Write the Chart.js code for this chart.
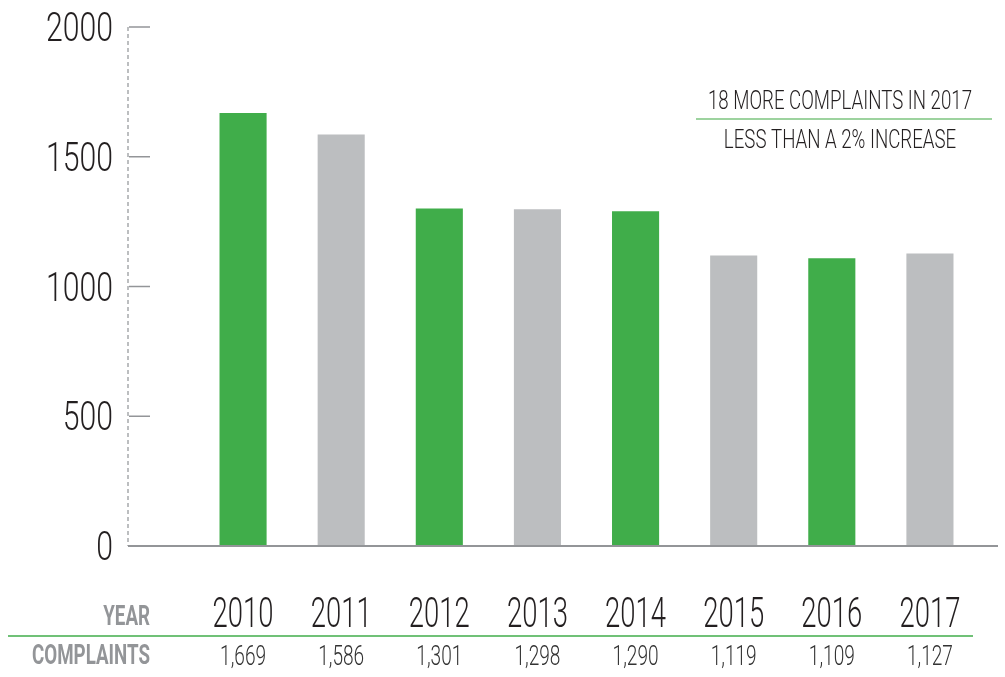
<!DOCTYPE html>
<html>
<head>
<meta charset="utf-8">
<script src="https://cdn.jsdelivr.net/npm/chart.js@4.4.1/dist/chart.umd.min.js"></script>
<style>
  html, body { margin: 0; padding: 0; background: #fff; }
  #wrap { width: 1005px; height: 677px; }
</style>
</head>
<body>
<div id="wrap"><canvas id="complaintsChart"></canvas></div>
<script>
const years = ['2010', '2011', '2012', '2013', '2014', '2015', '2016', '2017'];
const complaints = [1669, 1586, 1301, 1298, 1290, 1119, 1109, 1127];
const yTicks = [0, 500, 1000, 1500, 2000];
const noteLines = ['18 MORE COMPLAINTS IN 2017', 'LESS THAN A 2% INCREASE'];
const rowLabels = ['YEAR', 'COMPLAINTS'];

const FAMILY = 'Roboto, "DejaVu Sans", sans-serif';
const GREEN = '#40ad4a';
const GREY = '#bcbec0';
const INK = '#231f20';

// condensed text: squeeze so that a sample string gets a given width
function squeeze(ctx, font, sample, width) {
  ctx.font = font;
  return width / ctx.measureText(sample).width;
}
function put(ctx, text, x, y, align, sx) {
  ctx.save();
  ctx.translate(x, y);
  ctx.scale(sx, 1);
  ctx.textAlign = align;
  ctx.fillText(text, 0, 0);
  ctx.restore();
}

const decor = {
  id: 'decor',
  afterDraw(chart) {
    const ctx = chart.ctx;
    const y = chart.scales.y;
    const x = chart.scales.x;
    const axisX = 128;
    ctx.save();
    ctx.textBaseline = 'alphabetic';

    // dashed y axis
    ctx.strokeStyle = '#a7a9ac';
    ctx.lineWidth = 1.5;
    ctx.setLineDash([4, 3]);
    ctx.beginPath();
    ctx.moveTo(axisX, y.getPixelForValue(2000));
    ctx.lineTo(axisX, y.getPixelForValue(0));
    ctx.stroke();
    ctx.setLineDash([]);

    // short tick marks
    ctx.strokeStyle = '#939598';
    yTicks.forEach(v => {
      if (v === 0) return;
      const py = y.getPixelForValue(v);
      ctx.beginPath();
      ctx.moveTo(axisX + 1, py);
      ctx.lineTo(axisX + 22, py);
      ctx.stroke();
    });

    // baseline
    ctx.lineWidth = 2;
    ctx.beginPath();
    ctx.moveTo(axisX, y.getPixelForValue(0));
    ctx.lineTo(998, y.getPixelForValue(0));
    ctx.stroke();

    // y tick labels
    const bigFont = '300 40px ' + FAMILY;
    const sxBig = squeeze(ctx, bigFont, '2000', 67);
    ctx.fillStyle = INK;
    ctx.font = bigFont;
    yTicks.forEach(v => {
      put(ctx, String(v), 113, y.getPixelForValue(v) + 14, 'right', sxBig);
    });

    // year labels
    const yearFont = '300 42px ' + FAMILY;
    const sxYear = squeeze(ctx, yearFont, '2013', 61);
    ctx.font = yearFont;
    years.forEach((t, i) => {
      put(ctx, t, x.getPixelForValue(i), 627, 'center', sxYear);
    });

    // table rule
    ctx.strokeStyle = GREEN;
    ctx.lineWidth = 1.5;
    ctx.beginPath();
    ctx.moveTo(8, 636);
    ctx.lineTo(973, 636);
    ctx.stroke();

    // row headers
    const boldFont = 'bold 28px ' + FAMILY;
    const sxBold = squeeze(ctx, boldFont, rowLabels[1], 118);
    ctx.fillStyle = '#939598';
    ctx.font = boldFont;
    put(ctx, rowLabels[0], 150, 625, 'right', sxBold);
    put(ctx, rowLabels[1], 150, 664, 'right', sxBold);

    // complaint counts
    const smallFont = '300 28px ' + FAMILY;
    const sxSmall = squeeze(ctx, smallFont, '1,669', 46);
    ctx.fillStyle = '#333';
    ctx.font = smallFont;
    complaints.forEach((v, i) => {
      put(ctx, v.toLocaleString('en-US'), x.getPixelForValue(i), 665, 'center', sxSmall);
    });

    // note
    const noteFont = '300 25px ' + FAMILY;
    const sxNote = squeeze(ctx, noteFont, noteLines[0], 264);
    ctx.fillStyle = INK;
    ctx.font = noteFont;
    put(ctx, noteLines[0], 840, 109, 'center', sxNote);
    put(ctx, noteLines[1], 840, 148, 'center', sxNote);
    ctx.strokeStyle = '#7cc57f';
    ctx.lineWidth = 1.5;
    ctx.beginPath();
    ctx.moveTo(696, 119);
    ctx.lineTo(992, 119);
    ctx.stroke();

    ctx.restore();
  }
};

new Chart(document.getElementById('complaintsChart'), {
  type: 'bar',
  data: {
    labels: years,
    datasets: [{
      label: 'Complaints',
      data: complaints,
      backgroundColor: c => (c.dataIndex % 2 === 0 ? GREEN : GREY),
      categoryPercentage: 1,
      barPercentage: 0.48
    }]
  },
  options: {
    responsive: true,
    maintainAspectRatio: false,
    animation: false,
    layout: { padding: { top: 27, right: 26, left: 0, bottom: 0 } },
    plugins: {
      legend: { display: false },
      tooltip: { enabled: false }
    },
    scales: {
      x: {
        grid: { display: false, drawTicks: false },
        border: { display: false },
        ticks: { display: false },
        afterFit: s => { s.height = 131; s.paddingLeft = 0; s.paddingRight = 0; }
      },
      y: {
        min: 0,
        max: 2000,
        grid: { display: false, drawTicks: false },
        border: { display: false },
        afterBuildTicks: s => { s.ticks = yTicks.map(v => ({ value: v })); },
        ticks: { display: false },
        afterFit: s => { s.width = 194; s.paddingTop = 0; s.paddingBottom = 0; }
      }
    }
  },
  plugins: [decor]
});
</script>
</body>
</html>
